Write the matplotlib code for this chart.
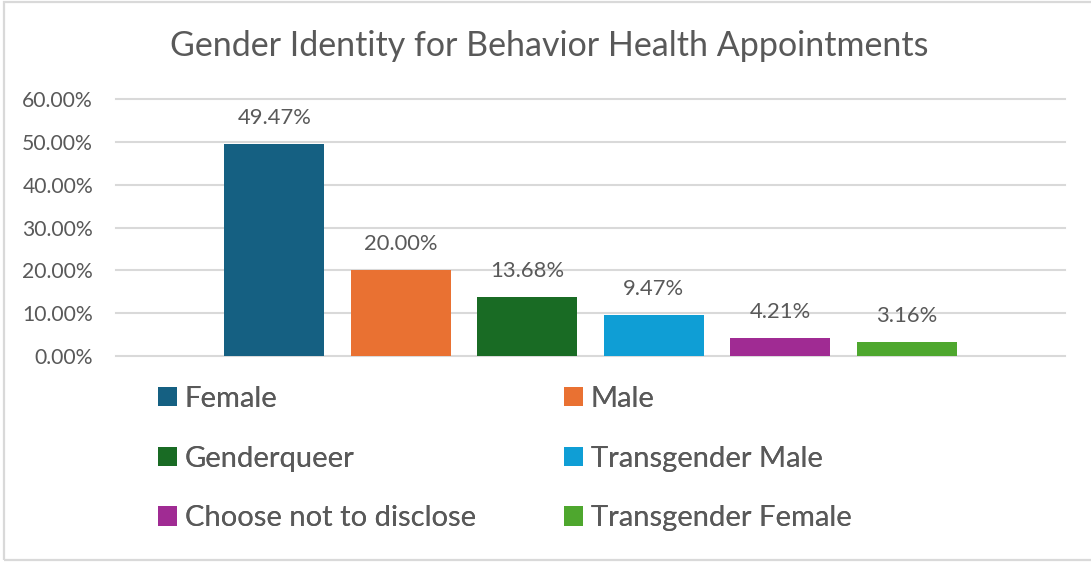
import matplotlib
matplotlib.use("Agg")
import matplotlib.pyplot as plt
from matplotlib.patches import Rectangle
from matplotlib.ticker import FuncFormatter

# ---- data ----
categories = ["Female", "Male", "Genderqueer", "Transgender Male",
              "Choose not to disclose", "Transgender Female"]
values = [0.4947, 0.2000, 0.1368, 0.0947, 0.0421, 0.0316]
colors = ["#156082", "#E97132", "#196B24", "#0F9ED5", "#A02B93", "#4EA72E"]
yticks = [0.0, 0.1, 0.2, 0.3, 0.4, 0.5, 0.6]
title = "Gender Identity for Behavior Health Appointments"

W, H, DPI = 1091, 562, 100
TXT = "#595959"
GRID = "#D9D9D9"
FAM = "Lato"

fig = plt.figure(figsize=(W / DPI, H / DPI), dpi=DPI)
renderer = fig.canvas.get_renderer()


def fit_size(text, target_px, weight="normal", family=FAM):
    t = fig.text(0, 0, text, fontsize=20, family=family, weight=weight)
    w = t.get_window_extent(renderer).width
    t.remove()
    return 20 * target_px / w


def px2fig(x, y):
    return x / W, 1 - y / H


# border
fig.add_artist(Rectangle((4 / W, 1 - 560 / H), (W + 10) / W, (558) / H,
                         transform=fig.transFigure, fill=False,
                         edgecolor=GRID, linewidth=1.6))

left, right, top, bottom = 116, 1065, 99, 356
ax = fig.add_axes([left / W, 1 - bottom / H, (right - left) / W, (bottom - top) / H])

n = len(values)
xs = list(range(n))
bars = []
for i, (c, v, col) in enumerate(zip(categories, values, colors)):
    b = ax.bar(xs[i], v, width=0.79, color=col, label=c, zorder=3)
    bars.append(b)

span = (right - left) / 126.5
ax.set_xlim((n - 1) / 2 - span / 2, (n - 1) / 2 + span / 2)
ax.set_ylim(0, 0.6)
ax.set_yticks(yticks)
tick_fs = fit_size("60.00%", 71)
ax.yaxis.set_major_formatter(FuncFormatter(lambda v, p: f"{v * 100:.2f}%"))
ax.tick_params(axis="y", length=0, pad=16.5, labelsize=tick_fs, labelcolor=TXT)
for lab in ax.get_yticklabels():
    lab.set_family(FAM)
ax.set_xticks([])
for s in ax.spines.values():
    s.set_visible(False)
ax.yaxis.grid(True, color=GRID, linewidth=1.5, zorder=0)
for gl in ax.get_ygridlines():
    gl.set_clip_on(False)
ax.set_axisbelow(True)

lab_fs = fit_size("49.47%", 74)
for i, v in enumerate(values):
    ax.annotate(f"{v * 100:.2f}%", (xs[i], v), xytext=(0, 18.7),
                textcoords="offset points", ha="center", va="center",
                fontsize=lab_fs, color=TXT, family=FAM, zorder=5)

# title
title_fs = fit_size(title, 762)
tx, ty = px2fig((168 + 930) / 2, 46)
fig.text(tx, ty, title, ha="center", va="center", fontsize=title_fs,
         color=TXT, family=FAM)

# legend: two columns, row-major order
leg_fs = fit_size("Choose not to disclose", 291)
leg_px = leg_fs * DPI / 72
handles = [b[0] for b in bars]
col_starts = [158, 564]
for ci, cs in enumerate(col_starts):
    idx = [ci, ci + 2, ci + 4]
    lx, ly = px2fig(cs, 386)
    leg = fig.legend([handles[k] for k in idx], [categories[k] for k in idx],
                     loc="upper left", bbox_to_anchor=(lx, ly), frameon=False,
                     borderpad=0, borderaxespad=0, handlelength=0.64,
                     handleheight=0.64, handletextpad=0.28,
                     labelspacing=1.0 + 4.5 / leg_px, prop={"family": FAM, "size": leg_fs},
                     labelcolor=TXT)
    fig.add_artist(leg)

fig.savefig("out.png", dpi=DPI, facecolor="white")
